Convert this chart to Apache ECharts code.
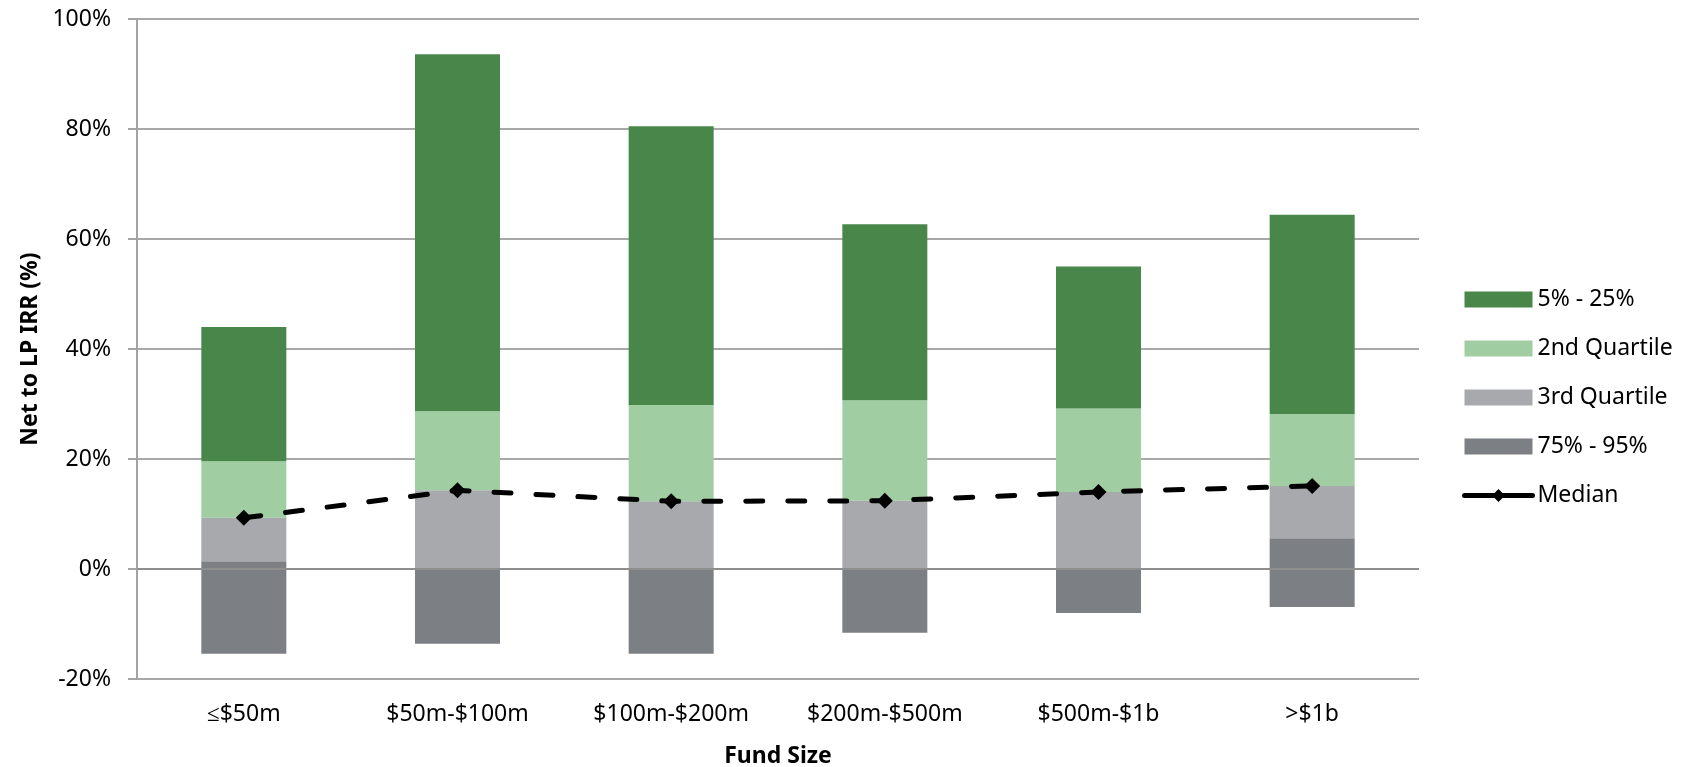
<!DOCTYPE html>
<html>
<head>
<meta charset="utf-8">
<script src="https://cdn.jsdelivr.net/npm/echarts@6/dist/echarts.min.js"></script>
<style>
html,body{margin:0;padding:0;background:#fff;}
#chart{width:1692px;height:767px;}
</style>
</head>
<body>
<div id="chart"></div>
<script>
var categories = ['≤$50m', '$50m-$100m', '$100m-$200m', '$200m-$500m', '$500m-$1b', '>$1b'];
// visible segment boundaries (%)
var p95 = [-15.4, -13.6, -15.4, -11.6, -8.0, -6.9];   // bottom of 75% - 95%
var p75 = [1.4, 0, 0, 0, 0, 5.6];                      // top of 75% - 95% / bottom of 3rd Quartile
var median = [9.3, 14.3, 12.3, 12.4, 14.0, 15.1];      // median
var p25 = [19.6, 28.7, 29.8, 30.7, 29.2, 28.2];        // top of 2nd Quartile
var p5 = [44.0, 93.6, 80.5, 62.7, 55.0, 64.4];         // top of 5% - 25%
var yTicks = {min: -20, max: 100, interval: 20};

function diff(a, b) { return a.map(function (v, i) { return +(v - b[i]).toFixed(2); }); }

var FONT = 'Noto Sans';
var chart = echarts.init(document.getElementById('chart'), null, {renderer: 'canvas'});
var barCommon = {type: 'bar', stack: 'irr', stackStrategy: 'all', barWidth: 85};

chart.setOption({
  animation: false,
  textStyle: {fontFamily: FONT, color: '#000'},
  grid: {left: 137, right: 273, top: 19, bottom: 88, containLabel: false, outerBoundsMode: 'none'},
  legend: {
    orient: 'vertical', left: 1457, top: 283,
    itemWidth: 68, itemHeight: 16, itemGap: 26,
    textStyle: {fontFamily: FONT, fontSize: 23, lineHeight: 23, color: '#000'},
    data: [
      {name: '5% - 25%', icon: 'rect'},
      {name: '2nd Quartile', icon: 'rect'},
      {name: '3rd Quartile', icon: 'rect'},
      {name: '75% - 95%', icon: 'rect'},
      {name: 'Median', lineStyle: {type: 'solid', width: 5, cap: 'round'}}
    ]
  },
  xAxis: {
    type: 'category', data: categories,
    axisLine: {show: false, onZero: false},
    axisTick: {show: false},
    axisLabel: {fontFamily: FONT, fontSize: 23, color: '#000', margin: 24},
    name: 'Fund Size', nameLocation: 'middle', nameGap: 66,
    nameTextStyle: {fontFamily: FONT, fontSize: 23, fontWeight: 'bold', color: '#000'}
  },
  yAxis: {
    type: 'value', min: yTicks.min, max: yTicks.max, interval: yTicks.interval,
    axisLine: {show: true, lineStyle: {color: '#a3a3a3', width: 2}},
    axisTick: {show: true, length: 9, lineStyle: {color: '#a3a3a3', width: 2}},
    splitLine: {lineStyle: {color: '#a8a8a8', width: 2}},
    axisLabel: {fontFamily: FONT, fontSize: 23, color: '#000', margin: 26, formatter: '{value}%'},
    name: 'Net to LP IRR (%)', nameLocation: 'middle', nameGap: 87,
    nameTextStyle: {fontFamily: FONT, fontSize: 23, fontWeight: 'bold', color: '#000'}
  },
  series: [
    Object.assign({}, barCommon, {name: 'base', data: p95, itemStyle: {color: 'rgba(0,0,0,0)'}, silent: true}),
    Object.assign({}, barCommon, {name: '75% - 95%', data: diff(p75, p95), itemStyle: {color: '#7c7f83'}}),
    Object.assign({}, barCommon, {name: '3rd Quartile', data: diff(median, p75), itemStyle: {color: '#a8a9ac'}}),
    Object.assign({}, barCommon, {name: '2nd Quartile', data: diff(p25, median), itemStyle: {color: '#a1cda2'}}),
    Object.assign({}, barCommon, {name: '5% - 25%', data: diff(p5, p25), itemStyle: {color: '#488649'}}),
    {
      name: 'Median', type: 'line', data: median, z: 5,
      symbol: 'diamond', symbolSize: 16,
      itemStyle: {color: '#000'},
      lineStyle: {color: '#000', width: 5, type: [17, 25], cap: 'round'},
      markLine: {
        silent: true, symbol: 'none', label: {show: false},
        lineStyle: {color: '#8e8e8e', width: 2, type: 'solid'},
        data: [{yAxis: 0}]
      }
    }
  ]
});
</script>
</body>
</html>
